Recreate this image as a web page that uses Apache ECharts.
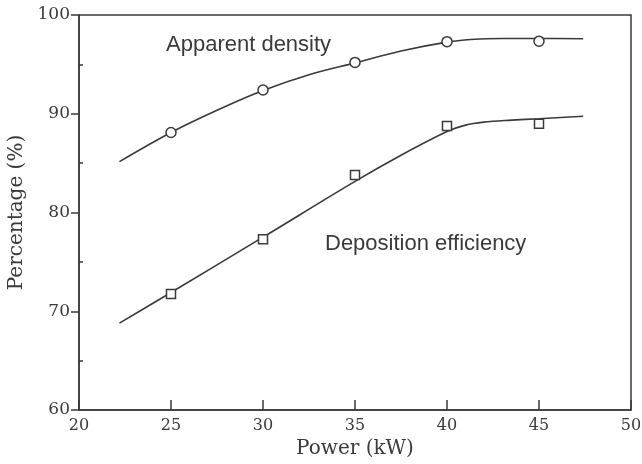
<!DOCTYPE html>
<html>
<head>
<meta charset="utf-8">
<script src="https://cdn.jsdelivr.net/npm/echarts@6/dist/echarts.min.js"></script>
<style>
  html, body { margin: 0; padding: 0; background: #fff; }
  #chart { width: 642px; height: 464px; }
</style>
</head>
<body>
<div id="chart"></div>
<script>
// measured points
var powerPoints = [25, 30, 35, 40, 45];
var densityPoints = [88.1, 92.4, 95.2, 97.3, 97.35];
var efficiencyPoints = [71.75, 77.3, 83.8, 88.75, 89.0];

// fitted curves
var densityFitX = [22.2, 25, 27.5, 30, 32.5, 35, 37.5, 40, 41.5, 43, 45, 47.4];
var densityFitY = [85.15, 88.1, 90.35, 92.35, 93.95, 95.15, 96.35, 97.25, 97.55, 97.62, 97.62, 97.6];
var efficiencyFitX = [22.2, 25, 30, 35, 37.5, 40, 41, 42, 43.5, 45, 47.4];
var efficiencyFitY = [68.8, 71.9, 77.5, 83.15, 85.8, 88.2, 88.85, 89.15, 89.35, 89.5, 89.75];

var xTicks = [20, 25, 30, 35, 40, 45, 50];
var yTicks = [60, 70, 80, 90, 100];

function pairs(xs, ys) {
    var out = [];
    for (var i = 0; i < xs.length; i++) {
        out.push([xs[i], ys[i]]);
    }
    return out;
}

var ink = '#3a3a3a';
var serif = '"DejaVu Serif", "Liberation Serif", serif';
var sans = '22px "Liberation Sans", Arial, sans-serif';

var myChart = echarts.init(document.getElementById('chart'));
var option = {
    animation: false,
    backgroundColor: '#fff',
    grid: {
        left: 79, right: 11, top: 15, bottom: 54,
        outerBoundsMode: 'none',
        show: true,
        borderColor: ink,
        borderWidth: 1.5
    },
    xAxis: {
        type: 'value',
        min: xTicks[0],
        max: xTicks[xTicks.length - 1],
        interval: 5,
        name: 'Power (kW)',
        nameLocation: 'middle',
        nameGap: 28,
        nameTextStyle: { fontFamily: serif, fontSize: 20, color: ink },
        axisLine: { lineStyle: { color: ink, width: 1.5 } },
        axisTick: { inside: true, length: 10, lineStyle: { color: ink, width: 1.5 } },
        axisLabel: { fontFamily: serif, fontSize: 16, color: ink, margin: 8 },
        splitLine: { show: false }
    },
    yAxis: [
        {
            type: 'value',
            min: yTicks[0],
            max: yTicks[yTicks.length - 1],
            interval: 10,
            name: 'Percentage (%)',
            nameLocation: 'middle',
            nameGap: 43,
            nameTextStyle: { fontFamily: serif, fontSize: 20, color: ink },
            axisLine: { show: true, lineStyle: { color: ink, width: 1.5 } },
            axisTick: { show: true, length: 8, lineStyle: { color: ink, width: 1.5 } },
            axisLabel: { fontFamily: serif, fontSize: 17, color: ink, margin: 9 },
            splitLine: { show: false }
        },
        {
            // only for the small inner ticks at 65, 75, 85, 95
            type: 'value',
            position: 'left',
            min: yTicks[0],
            max: yTicks[yTicks.length - 1],
            interval: 10,
            axisLine: { show: false },
            axisTick: { show: false, inside: true },
            minorTick: { show: true, splitNumber: 2, length: 4, lineStyle: { color: ink, width: 1.5 } },
            axisLabel: { show: false },
            splitLine: { show: false }
        }
    ],
    graphic: [
        {
            type: 'text', left: 166, top: 34,
            style: { text: 'Apparent density', font: sans, fill: ink }
        },
        {
            type: 'text', left: 325, top: 233,
            style: { text: 'Deposition efficiency', font: sans, fill: ink }
        }
    ],
    series: [
        {
            name: 'density fit',
            type: 'line',
            data: pairs(densityFitX, densityFitY),
            smooth: 0.35,
            showSymbol: false,
            lineStyle: { color: ink, width: 1.6 },
            z: 2
        },
        {
            name: 'efficiency fit',
            type: 'line',
            data: pairs(efficiencyFitX, efficiencyFitY),
            smooth: 0.35,
            showSymbol: false,
            lineStyle: { color: ink, width: 1.6 },
            z: 2
        },
        {
            name: 'Apparent density',
            type: 'scatter',
            symbol: 'circle',
            symbolSize: 10,
            data: pairs(powerPoints, densityPoints),
            itemStyle: { color: '#fff', borderColor: ink, borderWidth: 1.5, opacity: 1 },
            z: 3
        },
        {
            name: 'Deposition efficiency',
            type: 'scatter',
            symbol: 'rect',
            symbolSize: 9,
            data: pairs(powerPoints, efficiencyPoints),
            itemStyle: { color: '#fff', borderColor: ink, borderWidth: 1.5, opacity: 1 },
            z: 3
        }
    ]
};
myChart.setOption(option);
</script>
</body>
</html>
